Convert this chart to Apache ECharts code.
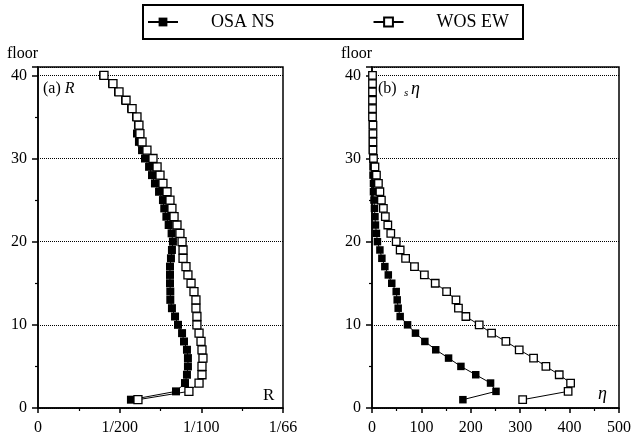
<!DOCTYPE html>
<html>
<head>
<meta charset="utf-8">
<script src="https://cdn.jsdelivr.net/npm/echarts@6/dist/echarts.min.js"></script>
<style>
html,body{margin:0;padding:0;background:#fff;}
#chart{width:635px;height:437px;}
</style>
</head>
<body>
<div id="chart"></div>
<script>
// floors 1..40
var floors = [1,2,3,4,5,6,7,8,9,10,11,12,13,14,15,16,17,18,19,20,
              21,22,23,24,25,26,27,28,29,30,31,32,33,34,35,36,37,38,39,40];

// (a) drift ratio R
var osaR = [0.00569,0.00845,0.00900,0.00912,0.00918,0.00918,0.00912,0.00894,0.00882,0.00857,
            0.00839,0.00820,0.00810,0.00810,0.00808,0.00808,0.00808,0.00814,0.00820,0.00826,
            0.00818,0.00800,0.00786,0.00773,0.00765,0.00741,0.00716,0.00698,0.00680,0.00655,
            0.00637,0.00618,0.00606,0.00612,0.00600,0.00570,0.00533,0.00490,0.00453,0.00398];
var wosR = [0.00612,0.00924,0.00986,0.01004,0.01004,0.01010,0.01004,0.00998,0.00986,0.00973,
            0.00973,0.00967,0.00967,0.00955,0.00937,0.00918,0.00906,0.00888,0.00888,0.00882,
            0.00869,0.00851,0.00833,0.00820,0.00808,0.00790,0.00765,0.00747,0.00729,0.00704,
            0.00667,0.00637,0.00624,0.00618,0.00606,0.00576,0.00539,0.00496,0.00459,0.00404];

// (b) s-eta
var osaEta = [184,251,240,210,180,155,129,107,88,72,
              57,53,51,49,40,33,26,20,16,11,
              9,7,6,5,4,3,3,2,2,2,
              1,1,1,1,1,1,1,1,1,1];
var wosEta = [305,397,402,379,352,327,298,271,242,217,
              190,175,170,151,128,106,86,68,57,49,
              38,32,27,23,19,16,13,9,6,3,
              2,2,2,2,1,1,1,1,1,1];

var rTickLabels = ['0','1/200','1/100','1/66'];

function pairs(xs){
	var out = [];
	for(var i=0;i<xs.length;i++){ out.push([xs[i], floors[i]]); }
	return out;
}

var serif = 'Liberation Serif';
var lbl = {color:'#000', fontFamily:serif, fontSize:16};

function yAx(idx){
	return {
		type:'value', gridIndex:idx, min:0, max:41, interval:10,
		name:'floor', nameLocation:'end', nameGap:5,
		nameTextStyle:{color:'#000', fontFamily:serif, fontSize:16, align:'right'},
		axisLine:{show:true, lineStyle:{color:'#000', width:1.5}},
		axisTick:{show:true, inside:false, length:6, lineStyle:{color:'#000', width:1.5}},
		minorTick:{show:true, splitNumber:2, length:3, lineStyle:{color:'#000', width:1.2}},
		axisLabel:Object.assign({margin:11, showMaxLabel:false}, lbl),
		splitLine:{show:true, lineStyle:{color:'#000', type:'dotted', width:1}}
	};
}

var chart = echarts.init(document.getElementById('chart'));

var option = {
	animation:false,
	backgroundColor:'#fff',
	legend:{
		data:['OSA NS','WOS EW'],
		left:143, top:5,
		padding:[8,14,8,4],
		borderColor:'#000', borderWidth:2,
		itemWidth:30, itemHeight:11, itemGap:98,
		lineStyle:{width:2},
		textStyle:{color:'#000', fontFamily:serif, fontSize:18, padding:[0,0,0,28]}
	},
	grid:[
		{left:38, top:67, width:245, height:341, show:true, borderColor:'#000', borderWidth:1.5},
		{left:372, top:67, width:247, height:341, show:true, borderColor:'#000', borderWidth:1.5}
	],
	xAxis:[
		{
			type:'value', gridIndex:0, min:0, max:0.015, interval:0.005,
			axisLine:{show:true, lineStyle:{color:'#000', width:1.5}},
			axisTick:{show:true, length:5, lineStyle:{color:'#000', width:1.5}},
			minorTick:{show:true, splitNumber:2, length:3, lineStyle:{color:'#000', width:1.2}},
			axisLabel:Object.assign({margin:12, formatter:function(v){
				return rTickLabels[Math.round(v/0.005)];
			}}, lbl),
			splitLine:{show:false}
		},
		{
			type:'value', gridIndex:1, min:0, max:500, interval:100,
			axisLine:{show:true, lineStyle:{color:'#000', width:1.5}},
			axisTick:{show:true, length:5, lineStyle:{color:'#000', width:1.5}},
			minorTick:{show:true, splitNumber:2, length:3, lineStyle:{color:'#000', width:1.2}},
			axisLabel:Object.assign({margin:12}, lbl),
			splitLine:{show:false}
		}
	],
	yAxis:[yAx(0), yAx(1)],
	series:[
		{
			name:'OSA NS', type:'line', xAxisIndex:0, yAxisIndex:0,
			symbol:'rect', symbolSize:8, showAllSymbol:true,
			itemStyle:{color:'#000'},
			lineStyle:{color:'#000', width:1},
			data:pairs(osaR)
		},
		{
			name:'WOS EW', type:'line', xAxisIndex:0, yAxisIndex:0,
			symbol:'rect', symbolSize:8, showAllSymbol:true,
			itemStyle:{color:'#fff', borderColor:'#000', borderWidth:1.3},
			lineStyle:{color:'#000', width:1},
			data:pairs(wosR)
		},
		{
			name:'OSA NS', type:'line', xAxisIndex:1, yAxisIndex:1,
			symbol:'rect', symbolSize:7.5, showAllSymbol:true,
			itemStyle:{color:'#000'},
			lineStyle:{color:'#000', width:1},
			data:pairs(osaEta)
		},
		{
			name:'WOS EW', type:'line', xAxisIndex:1, yAxisIndex:1,
			symbol:'rect', symbolSize:7.5, showAllSymbol:true,
			itemStyle:{color:'#fff', borderColor:'#000', borderWidth:1.3},
			lineStyle:{color:'#000', width:1},
			data:pairs(wosEta)
		}
	],
	graphic:[
		{type:'text', left:43, top:81, style:{text:'(a) {i|R}', fill:'#000', font:'16px '+serif,
			rich:{i:{fontStyle:'italic', fontSize:16, fontFamily:serif}}}},
		{type:'text', left:378, top:81, style:{text:'(b)', fill:'#000', font:'16px '+serif}},
		{type:'text', left:404, top:88, style:{text:'s', fill:'#000', font:'italic 11px '+serif}},
		{type:'text', left:411, top:80, style:{text:'η', fill:'#000', font:'italic 18px '+serif}},
		{type:'text', left:263, top:387, style:{text:'R', fill:'#000', font:'17px '+serif}},
		{type:'text', left:598, top:385, style:{text:'η', fill:'#000', font:'italic 18px '+serif}}
	]
};

chart.setOption(option);
</script>
</body>
</html>
